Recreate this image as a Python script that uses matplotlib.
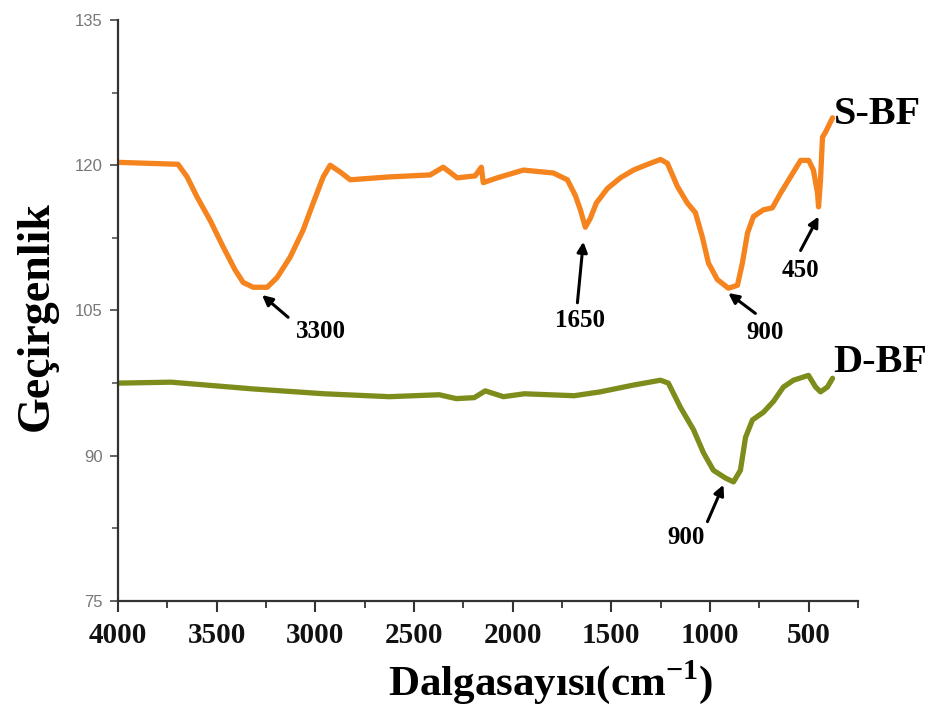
import matplotlib
matplotlib.use("Agg")
import matplotlib.pyplot as plt
from matplotlib.ticker import MultipleLocator

plt.rcParams['mathtext.fontset'] = 'custom'
plt.rcParams['mathtext.rm'] = 'Liberation Serif:bold'
plt.rcParams['mathtext.bf'] = 'Liberation Serif:bold'

# S-BF spectrum (wavenumber, transmittance)
sbf_x = [4000, 3850, 3696, 3650, 3599, 3533, 3468, 3407, 3366, 3315, 3244, 3194,
         3128, 3062, 3011, 2960, 2925, 2874, 2823, 2621, 2418, 2352, 2281, 2190,
         2159, 2149, 2078, 1946, 1794, 1723, 1683, 1657, 1632, 1607, 1576, 1520,
         1454, 1388, 1328, 1251, 1216, 1165, 1115, 1074, 1039, 1008, 963, 907,
         861, 836, 810, 780, 729, 684, 643, 592, 541, 500, 476, 455, 450, 440,
         430, 415, 379]
sbf_y = [120.3, 120.2, 120.1, 118.8, 116.7, 114.3, 111.6, 109.2, 107.9, 107.4, 107.4, 108.4,
         110.5, 113.3, 116.1, 118.8, 120.0, 119.3, 118.5, 118.8, 119.0, 119.8, 118.7, 118.9,
         119.8, 118.2, 118.7, 119.5, 119.2, 118.5, 116.9, 115.4, 113.6, 114.5, 116.1, 117.6,
         118.7, 119.5, 120.0, 120.6, 120.2, 117.8, 116.1, 115.1, 112.6, 109.9, 108.2, 107.3,
         107.6, 109.9, 113.0, 114.7, 115.4, 115.6, 117.1, 118.8, 120.5, 120.5, 119.5, 117.1,
         115.7, 118.5, 122.9, 123.4, 124.9]

# D-BF spectrum
dbf_x = [4000, 3731, 3315, 2955, 2626, 2372, 2286, 2195, 2139, 2047, 1941, 1688,
         1556, 1388, 1251, 1211, 1150, 1084, 1033, 983, 922, 881, 846, 820, 785,
         729, 679, 628, 577, 501, 465, 440, 405, 379]
dbf_y = [97.5, 97.6, 96.9, 96.4, 96.1, 96.3, 95.9, 96.0, 96.7, 96.1, 96.4, 96.2,
         96.6, 97.3, 97.8, 97.5, 95.0, 92.7, 90.3, 88.5, 87.7, 87.3, 88.5, 91.9, 93.7,
         94.5, 95.6, 97.1, 97.8, 98.3, 97.1, 96.6, 97.1, 98.0]

# annotations: label, arrow tip, arrow tail, text centre (data coords)
ann_labels = ["3300", "1650", "900", "450", "900"]
ann_tip = [(3270, 106.6), (1642, 112.1), (907, 106.8), (450, 114.7), (932, 87.0)]
ann_tail = [(3138, 104.3), (1672, 105.8), (770, 104.7), (541, 111.2), (1013, 83.2)]
ann_txt = [(2971, 102.8), (1657, 104.0), (719, 102.7), (541, 109.1), (1120, 81.6)]

series_names = ["S-BF", "D-BF"]
series_label_pos = [(374, 124.3), (374, 98.6)]

xticks = [4000, 3500, 3000, 2500, 2000, 1500, 1000, 500]
yticks = [75, 90, 105, 120, 135]

fig = plt.figure(figsize=(9.3, 7.06), dpi=100)
ax = fig.add_axes([0.1269, 0.1487, 0.7957, 0.8230])

ax.plot(sbf_x, sbf_y, color="#F5841F", lw=3.8, solid_joinstyle='round', solid_capstyle='round')
ax.plot(dbf_x, dbf_y, color="#7E8C1C", lw=3.8, solid_joinstyle='round', solid_capstyle='round')

ax.set_xlim(4000, 250)
ax.set_ylim(75, 135)
ax.set_xticks(xticks)
ax.set_yticks(yticks)
ax.xaxis.set_minor_locator(MultipleLocator(250))
ax.yaxis.set_minor_locator(MultipleLocator(7.5))

for s in ["top", "right"]:
    ax.spines[s].set_visible(False)
for s in ["left", "bottom"]:
    ax.spines[s].set_color("#333333")
    ax.spines[s].set_linewidth(1.6)

ax.tick_params(axis='x', which='major', direction='out', length=8, width=1.5,
               color="#333333", pad=7)
ax.tick_params(axis='x', which='minor', direction='out', length=5, width=1.3, color="#333333")
ax.tick_params(axis='y', which='major', direction='out', length=6, width=1.3,
               color="#555555", labelcolor="#777777", labelsize=12, pad=5)
ax.tick_params(axis='y', which='minor', direction='out', length=4, width=1.2, color="#555555")

for lab in ax.get_xticklabels():
    lab.set_family("Liberation Serif")
    lab.set_fontweight("bold")
    lab.set_fontsize(21)
    lab.set_color("#111111")
for lab in ax.get_yticklabels():
    lab.set_family("Liberation Sans")

for lab, tip, tail, txt in zip(ann_labels, ann_tip, ann_tail, ann_txt):
    ax.annotate("", xy=tip, xytext=tail,
                arrowprops=dict(arrowstyle='-|>', color='black', lw=2.2,
                                mutation_scale=15, shrinkA=0, shrinkB=0))
    ax.text(txt[0], txt[1], lab, ha='center', va='center',
            fontsize=18, fontweight='bold', family='Liberation Serif')

for name, pos in zip(series_names, series_label_pos):
    ax.text(pos[0], pos[1], name, ha='left', va='baseline', fontsize=29,
            fontweight='bold', family='Liberation Serif', clip_on=False)

fig.text(0.040, 0.552, "Geçirgenlik", rotation=90, ha='center', va='center',
         fontsize=33, fontweight='bold', family='Liberation Serif')
fig.text(0.592, 0.016, r"Dalgasayısı(cm$^{\mathbf{-1}}$)", ha='center', va='baseline',
         fontsize=31, fontweight='bold', family='Liberation Serif')

fig.savefig("out.png", dpi=100)
